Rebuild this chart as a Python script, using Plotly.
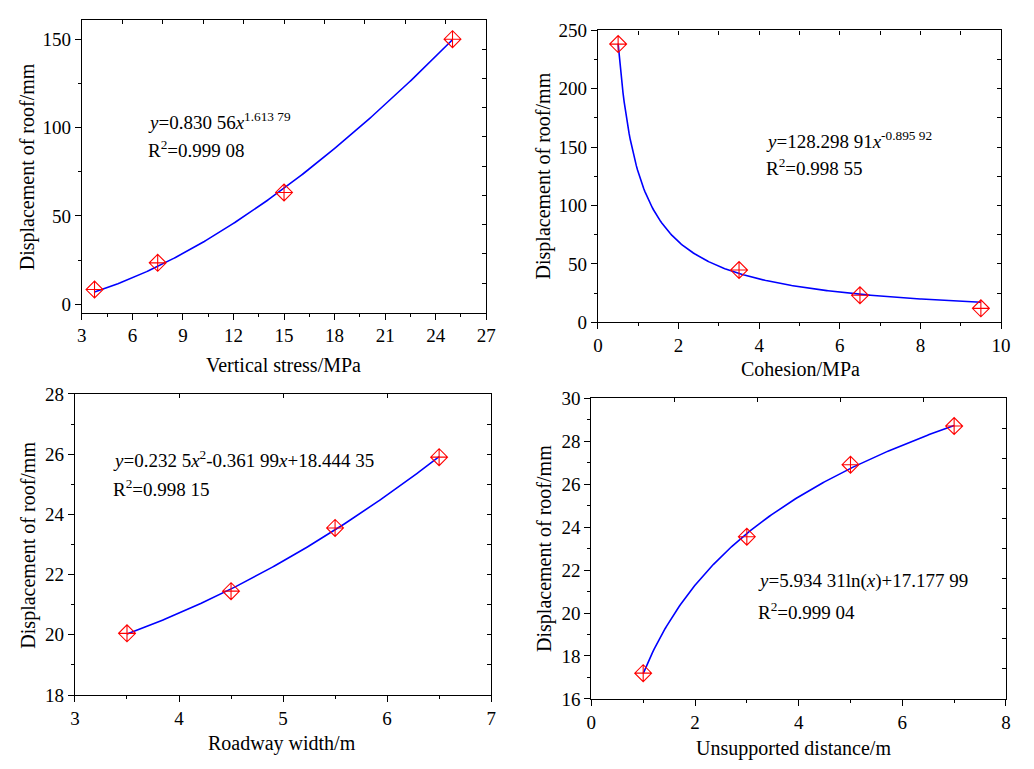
import numpy as np
import plotly.graph_objects as go

# ---------------- data ----------------
stress_x = [3.75, 7.5, 15, 25]
stress_y = [8.4, 23.5, 63.3, 150.0]
stress_a, stress_b = 0.83056, 1.61379          # y = a*x^b

coh_x = [0.5, 3.5, 6.5, 9.5]
coh_y = [238.3, 44.7, 23.1, 11.9]
coh_a, coh_b = 128.29891, -0.89592              # y = a*x^b

width_x = [3.5, 4.5, 5.5, 6.5]
width_y = [20.05, 21.45, 23.55, 25.9]
width_c2, width_c1, width_c0 = 0.2325, -0.36199, 18.44435   # quadratic

dist_x = [1, 3, 5, 7]
dist_y = [17.2, 23.55, 26.9, 28.7]
dist_a, dist_b = 5.93431, 17.17799             # y = a*ln(x)+b

eq_texts = [
    ("<i>y</i>=0.830 56<i>x</i><sup>1.613 79</sup>", "R<sup>2</sup>=0.999 08"),
    ("<i>y</i>=128.298 91<i>x</i><sup>-0.895 92</sup>", "R<sup>2</sup>=0.998 55"),
    ("<i>y</i>=0.232 5<i>x</i><sup>2</sup>-0.361 99<i>x</i>+18.444 35", "R<sup>2</sup>=0.998 15"),
    ("<i>y</i>=5.934 31ln(<i>x</i>)+17.177 99", "R<sup>2</sup>=0.999 04"),
]
x_titles = ["Vertical stress/MPa", "Cohesion/MPa", "Roadway width/m", "Unsupported distance/m"]
y_title = "Displacement of roof/mm"

# ---------------- layout geometry ----------------
W, H = 1034, 769
FONT = "Liberation Serif"
TICK_SIZE = 19
TITLE_SIZE = 20
EQ_SIZE = 19

def fx(px):
    return px / W

def fy(py):
    return 1 - py / H

panels = [
    dict(xd=(78, 488.3), yd=(10, 311), xr=[3, 27], yr=[-4.6, 161], xdt=3, ydt=50,
         topn=10, rightn=10, eq=(6.8, 104, 88)),
    dict(xd=(601.7, 1010.7), yd=(21, 321), xr=[0, 10], yr=[0, 250], xdt=2, ydt=50,
         topn=10, rightn=10, eq=(4.11, 156, 133)),
    dict(xd=(71, 493.3), yd=(394.7, 704.3), xr=[3, 7], yr=[18, 28], xdt=1, ydt=2,
         topn=4, rightn=10, eq=(3.35, 25.84, 24.87)),
    dict(xd=(595, 1015.7), yd=(399, 708.3), xr=[0, 8], yr=[16, 30], xdt=2, ydt=2,
         topn=5, rightn=10, eq=(3.18, 21.5, 20.07)),
]
xtitle_pos = [(283, 365), (807, 369), (281, 754), (800, 759)]
ytitle_pos = [(23, 161), (546, 171), (24, 550), (548, 554)]

# fitted curves from the printed regression equations
xs1 = np.linspace(stress_x[0], stress_x[-1], 200)
ys1 = stress_a * xs1 ** stress_b
xs2 = np.linspace(coh_x[0], coh_x[-1], 300)
ys2 = coh_a * xs2 ** coh_b
xs3 = np.linspace(width_x[0], width_x[-1], 200)
ys3 = width_c2 * xs3 ** 2 + width_c1 * xs3 + width_c0
xs4 = np.linspace(dist_x[0], dist_x[-1], 200)
ys4 = dist_a * np.log(xs4) + dist_b

fits = [(xs1, ys1), (xs2, ys2), (xs3, ys3), (xs4, ys4)]
points = [(stress_x, stress_y), (coh_x, coh_y), (width_x, width_y), (dist_x, dist_y)]

fig = go.Figure()
layout = dict(
    width=W, height=H, margin=dict(l=0, r=0, t=0, b=0),
    paper_bgcolor="white", plot_bgcolor="white", showlegend=False,
    font=dict(family=FONT, size=18, color="black"),
)
annotations = []

for i, p in enumerate(panels):
    n = i + 1
    xa = f"xaxis{n}" if n > 1 else "xaxis"
    ya = f"yaxis{n}" if n > 1 else "yaxis"
    xref = f"x{n}" if n > 1 else "x"
    yref = f"y{n}" if n > 1 else "y"
    ta = 4 + 2 * i + 1
    ra = 4 + 2 * i + 2
    xdom = [fx(p["xd"][0]), fx(p["xd"][1])]
    ydom = [fy(p["yd"][1]), fy(p["yd"][0])]

    layout[xa] = dict(domain=xdom, anchor=yref, range=p["xr"], dtick=p["xdt"], tick0=0,
                      showgrid=False, zeroline=False, showline=True, linecolor="black",
                      linewidth=1.3, ticks="outside", ticklen=6, tickwidth=1.3,
                      tickcolor="black", tickfont=dict(family=FONT, size=TICK_SIZE),
                      minor=dict(ticks="outside", ticklen=3, tickwidth=1.3,
                                 tickcolor="black", dtick=p["xdt"] / 2, showgrid=False))
    layout[ya] = dict(domain=ydom, anchor=xref, range=p["yr"], dtick=p["ydt"], tick0=0,
                      showgrid=False, zeroline=False, showline=True, linecolor="black",
                      linewidth=1.3, ticks="outside", ticklen=6, tickwidth=1.3,
                      tickcolor="black", tickfont=dict(family=FONT, size=TICK_SIZE),
                      minor=dict(ticks="outside", ticklen=3, tickwidth=1.3,
                                 tickcolor="black", dtick=p["ydt"] / 2, showgrid=False))
    layout[f"xaxis{ta}"] = dict(domain=xdom, anchor=f"y{ta}", overlaying=xref, side="top",
                                range=[0, p["topn"]], dtick=1, showticklabels=False,
                                showgrid=False, zeroline=False, showline=True,
                                linecolor="black", linewidth=1.3, ticks="inside",
                                ticklen=4, tickwidth=1.3, tickcolor="black")
    layout[f"yaxis{ta}"] = dict(domain=ydom, anchor=f"x{ta}", range=[0, 1], visible=False,
                                overlaying=yref)
    layout[f"xaxis{ra}"] = dict(domain=xdom, anchor=f"y{ra}", range=[0, 1], visible=False,
                                overlaying=xref)
    layout[f"yaxis{ra}"] = dict(domain=ydom, anchor=f"x{ra}", overlaying=yref, side="right",
                                range=[0, p["rightn"]], dtick=1, showticklabels=False,
                                showgrid=False, zeroline=False, showline=True,
                                linecolor="black", linewidth=1.3, ticks="inside",
                                ticklen=4, tickwidth=1.3, tickcolor="black")
    fig.add_trace(go.Scatter(x=[None], y=[None], xaxis=f"x{ta}", yaxis=f"y{ta}",
                             hoverinfo="skip", showlegend=False))
    fig.add_trace(go.Scatter(x=[None], y=[None], xaxis=f"x{ra}", yaxis=f"y{ra}",
                             hoverinfo="skip", showlegend=False))

    fx_, fy_ = fits[i]
    fig.add_trace(go.Scatter(x=fx_, y=fy_, mode="lines", xaxis=xref, yaxis=yref,
                             line=dict(color="#0000ff", width=1.6), hoverinfo="skip"))
    px_, py_ = points[i]
    fig.add_trace(go.Scatter(x=px_, y=py_, mode="markers", xaxis=xref, yaxis=yref,
                             marker=dict(symbol="diamond-cross-open", size=13,
                                         color="#ff0000", line=dict(color="#ff0000", width=1.1))))

    ex, ey1, ey2 = p["eq"]
    for txt, ey in zip(eq_texts[i], (ey1, ey2)):
        annotations.append(dict(x=ex, y=ey, xref=xref, yref=yref, text=txt, showarrow=False,
                                xanchor="left", yanchor="middle",
                                font=dict(family=FONT, size=EQ_SIZE, color="black")))
    tx, tyy = xtitle_pos[i]
    annotations.append(dict(x=fx(tx), y=fy(tyy), xref="paper", yref="paper", text=x_titles[i],
                            showarrow=False, xanchor="center", yanchor="middle",
                            font=dict(family=FONT, size=TITLE_SIZE, color="black")))
    yx, yy = ytitle_pos[i]
    annotations.append(dict(x=fx(yx), y=fy(yy), xref="paper", yref="paper", text=y_title,
                            showarrow=False, xanchor="center", yanchor="middle", textangle=-90,
                            font=dict(family=FONT, size=TITLE_SIZE, color="black")))

layout["annotations"] = annotations
fig.update_layout(**layout)
fig.write_html("out.html")
